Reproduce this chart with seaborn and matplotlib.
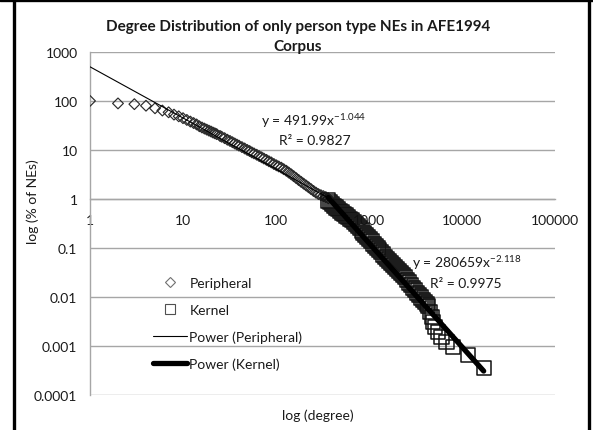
import numpy as np
import matplotlib
matplotlib.use("Agg")
import matplotlib.pyplot as plt
import seaborn as sns
from matplotlib.lines import Line2D

# Peripheral series: degree vs % of NEs
peripheral_degree = [1, 2, 3, 4, 5, 6, 7, 8, 9, 10, 11, 12, 13, 14, 15, 16, 17, 18, 19, 20,
                     21, 22, 23, 25, 26, 28, 30, 32, 34, 36, 38, 40, 43, 46, 49, 52, 55, 58,
                     62, 66, 70, 74, 79, 84, 89, 95, 101, 107, 114, 121, 129, 137, 146, 155,
                     165, 175, 186, 198, 211, 224, 238, 253, 269, 286, 304, 323, 343, 365]
peripheral_pct = [99, 88, 85, 79, 70, 63, 58, 52, 48, 44, 40.5, 37.5, 35, 32.8, 30.1, 28.4,
                  27.0, 25.7, 24.5, 23.5, 22.4, 21.6, 20.8, 19.1, 18.4, 17.2, 16.0, 15.1, 14.2,
                  13.4, 12.7, 12.1, 11.3, 10.6, 9.9, 9.4, 8.8, 8.4, 7.9, 7.4, 7.0, 6.6, 6.2,
                  5.8, 5.5, 5.1, 4.8, 4.55, 4.3, 4.0, 3.72, 3.42, 3.14, 2.88, 2.63, 2.41, 2.21,
                  2.03, 1.86, 1.71, 1.57, 1.44, 1.33, 1.24, 1.18, 1.13, 1.08, 1.02]

# Kernel series
kernel_degree = [364, 382, 401, 421, 442, 464, 487, 511, 537, 564, 592, 622, 653, 686, 720,
                 756, 794, 834, 875, 919, 965, 1013, 1064, 1117, 1173, 1232, 1293, 1358, 1426,
                 1497, 1572, 1650, 1733, 1820, 1911, 2006, 2106, 2212, 2322, 2438, 2560, 2688,
                 2823, 2964, 3112, 3268, 3431, 3603, 3783, 3972, 4171, 4345, 4530, 4720, 4900,
                 5100, 5550, 6020, 6830, 7990, 11600, 17100]
kernel_pct = [0.92, 0.85, 0.78, 0.72, 0.66, 0.61, 0.562, 0.525, 0.486, 0.452, 0.42, 0.39,
              0.362, 0.337, 0.307, 0.276, 0.249, 0.225, 0.203, 0.184, 0.165, 0.149, 0.135,
              0.121, 0.11, 0.0986, 0.0891, 0.0805, 0.0728, 0.0656, 0.059, 0.0533, 0.0483,
              0.044, 0.0402, 0.0366, 0.0334, 0.0304, 0.0276, 0.0248, 0.022, 0.0195, 0.0172,
              0.0153, 0.0136, 0.012, 0.0107, 0.0096, 0.0087, 0.0079, 0.0071, 0.00655, 0.0048,
              0.0038, 0.0030, 0.0024, 0.00188, 0.00148, 0.00117, 0.00093, 0.00065, 0.00035]

# power trendlines y = a * x^b, as printed on the chart
peripheral_fit = (491.99, -1.044)
kernel_fit = (280659, -2.118)

x_ticks = [1, 10, 100, 1000, 10000, 100000]
x_labels = ["1", "10", "100", "1000", "10000", "100000"]
y_ticks = [0.0001, 0.001, 0.01, 0.1, 1, 10, 100, 1000]
y_labels = ["0.0001", "0.001", "0.01", "0.1", "1", "10", "100", "1000"]

sns.set_theme(style="white")
plt.rcParams["font.family"] = ["Lato", "DejaVu Sans"]
plt.rcParams["mathtext.fontset"] = "custom"
plt.rcParams["mathtext.rm"] = "Lato"
plt.rcParams["mathtext.it"] = "Lato:italic"

W, H = 593, 431
fig = plt.figure(figsize=(W / 100, H / 100), dpi=100)
ax = fig.add_axes([90 / W, 1 - 395.7 / H, (555 - 90) / W, (395.7 - 52.7) / H])
ax.set_xscale("log")
ax.set_yscale("log")

grid_col = "#a6a6a6"
txt_col = "#1a1a1a"

sns.scatterplot(x=peripheral_degree, y=peripheral_pct, marker="D", s=30,
                facecolor="none", edgecolor="#2a2a2a", linewidth=0.85, ax=ax, zorder=3)
sns.scatterplot(x=kernel_degree, y=kernel_pct, marker="s", s=105,
                facecolor="none", edgecolor="#111111", linewidth=1.1, ax=ax, zorder=3)

xp = np.geomspace(min(peripheral_degree), max(peripheral_degree), 60)
sns.lineplot(x=xp, y=peripheral_fit[0] * xp ** peripheral_fit[1], color="black",
             lw=0.8, ax=ax, zorder=4)
xk = np.geomspace(min(kernel_degree), max(kernel_degree), 60)
sns.lineplot(x=xk, y=kernel_fit[0] * xk ** kernel_fit[1], color="black",
             lw=3.8, ax=ax, zorder=4)

ax.set_xlim(1, 100000)
ax.set_ylim(0.0001, 1000)
ax.set_xticks(x_ticks)
ax.set_xticklabels(x_labels)
ax.set_yticks(y_ticks)
ax.set_yticklabels(y_labels)
ax.minorticks_off()
ax.tick_params(axis="x", length=0, pad=11, labelsize=10, colors=txt_col)
ax.tick_params(axis="y", length=0, pad=9, labelsize=10, colors=txt_col)
ax.yaxis.grid(True, color=grid_col, lw=1.0)
ax.xaxis.grid(False)
for side in ["top", "right"]:
    ax.spines[side].set_visible(False)
ax.spines["left"].set_color(grid_col)
ax.spines["left"].set_linewidth(1.0)
ax.spines["bottom"].set_position(("data", 1))
ax.spines["bottom"].set_color(grid_col)
ax.spines["bottom"].set_linewidth(1.0)
ax.set_xlabel("")
ax.set_ylabel("")

# titles and axis titles
fig.text(298 / W, 1 - 26.8 / H, "Degree Distribution of only person type NEs in AFE1994",
         ha="center", va="center", fontsize=11, fontweight="bold", color=txt_col)
fig.text(298 / W, 1 - 46.7 / H, "Corpus", ha="center", va="center", fontsize=11,
         fontweight="bold", color=txt_col)
fig.text(33 / W, 1 - 202 / H, "log (% of NEs)", rotation=90, ha="center", va="center",
         fontsize=10, color=txt_col)
fig.text(318 / W, 1 - 416 / H, "log (degree)", ha="center", va="center",
         fontsize=10, color=txt_col)

# trendline equations
eq_kw = dict(ha="center", va="center", fontsize=10, color=txt_col)
fig.text(314 / W, 1 - 121 / H, r"y = 491.99x$^{\mathregular{-1.044}}$", **eq_kw)
fig.text(315 / W, 1 - 141 / H, "R² = 0.9827", **eq_kw)
fig.text(467 / W, 1 - 263 / H, r"y = 280659x$^{\mathregular{-2.118}}$", **eq_kw)
fig.text(466 / W, 1 - 284.5 / H, "R² = 0.9975", **eq_kw)

handles = [
    Line2D([], [], ls="none", marker="D", markersize=5.2, mfc="none", mec="#707070", mew=0.8),
    Line2D([], [], ls="none", marker="s", markersize=7.5, mfc="none", mec="#505050", mew=0.8),
    Line2D([], [], color="black", lw=0.8),
    Line2D([], [], color="black", lw=3.8),
]
leg = ax.legend(handles, ["Peripheral", "Kernel", "Power (Peripheral)", "Power (Kernel)"],
                loc="upper left", bbox_to_anchor=(147.7 / W, 1 - 272.5 / H),
                bbox_transform=fig.transFigure, frameon=False, fontsize=10,
                handlelength=2.45, handletextpad=0.15, labelspacing=1.05,
                borderaxespad=0, borderpad=0.4)
for t in leg.get_texts():
    t.set_color(txt_col)

# black frame around the chart (top, left, right)
frame_kw = dict(color="black", lw=2.4, transform=fig.transFigure, clip_on=False)
fig.add_artist(Line2D([0, 1], [1 - 1.2 / H, 1 - 1.2 / H], **frame_kw))
fig.add_artist(Line2D([14 / W, 14 / W], [0, 1], **frame_kw))
fig.add_artist(Line2D([588.5 / W, 588.5 / W], [0, 1], **frame_kw))

fig.savefig("out.png", dpi=100)
